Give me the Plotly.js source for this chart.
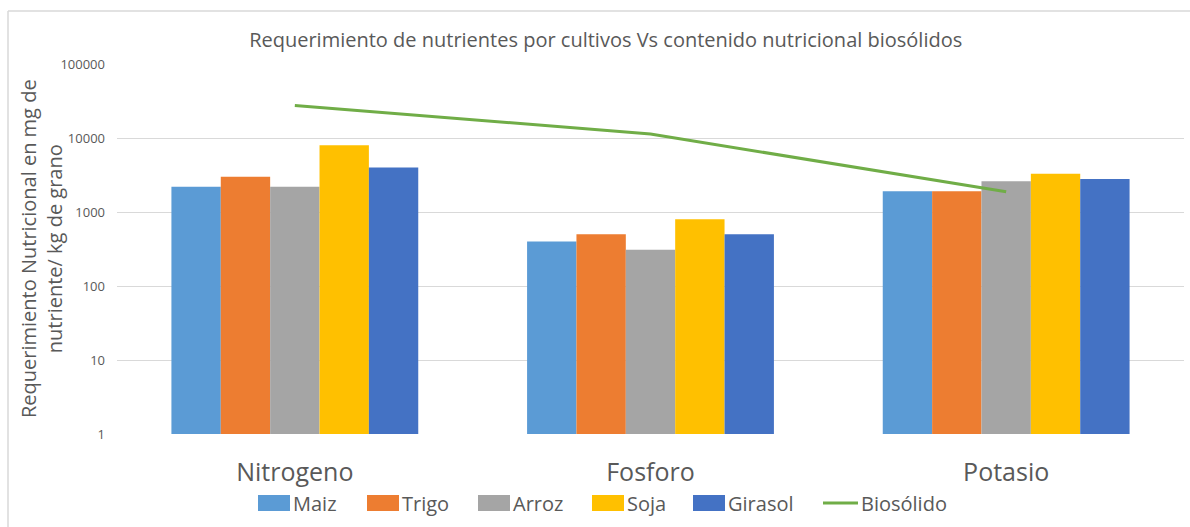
<!DOCTYPE html>
<html>
<head>
<meta charset="utf-8">
<script src="https://cdn.plot.ly/plotly-3.0.1.min.js"></script>
<style>html,body{margin:0;padding:0;background:#fff;}#chart{width:1190px;height:527px;}</style>
</head>
<body>
<div id="chart"></div>
<script>
const categories = ["Nitrogeno", "Fosforo", "Potasio"];
const maiz = [2200, 400, 1900];
const trigo = [3000, 500, 1900];
const arroz = [2200, 310, 2600];
const soja = [8000, 800, 3300];
const girasol = [4000, 500, 2800];
const biosolido = [27500, 11300, 1880];
const yTickVals = [1, 10, 100, 1000, 10000, 100000];
const yTickText = ["1", "10", "100", "1000", "10000", "100000"];
const seriesNames = ["Maiz", "Trigo", "Arroz", "Soja", "Girasol", "Biosólido"];

const FONT = "'Open Sans', sans-serif";
const GRAY = "#595959";
const COLORS = ["#5B9BD5", "#ED7D31", "#A5A5A5", "#FFC000", "#4472C4", "#70AD47"];
const barSeries = [maiz, trigo, arroz, soja, girasol];

const data = barSeries.map((y, i) => ({
  type: "bar", name: seriesNames[i], x: categories, y: y,
  marker: {color: COLORS[i], line: {width: 0}}
}));
data.push({type: "scatter", mode: "lines", name: seriesNames[5], x: categories, y: biosolido,
  line: {color: COLORS[5], width: 3}});

// plot area in pixels
const L = 117, R = 6, T = 64, B = 93, W = 1190, H = 527;
const PW = W - L - R, PH = H - T - B;
const px = v => (v - L) / PW;
const py = v => (H - B - v) / PH;

// custom legend (large swatches like the original)
const legendStarts = [258, 367, 478, 592, 693, 823];
const legendY = 503;
const shapes = [
  {type: "line", xref: "paper", yref: "paper", x0: px(8), x1: px(1195), y0: py(11), y1: py(11),
   line: {color: "#d9d9d9", width: 1.5}},
  {type: "line", xref: "paper", yref: "paper", x0: px(8), x1: px(8), y0: py(11), y1: py(530),
   line: {color: "#d9d9d9", width: 1.5}}
];
const annotations = [
  {text: "Requerimiento Nutricional en mg de<br>nutriente/ kg de grano", xref: "paper", yref: "paper",
   x: px(41), y: py(249), textangle: -90, showarrow: false, xanchor: "center", yanchor: "middle",
   font: {family: FONT, size: 20, color: GRAY}}
];
seriesNames.forEach((n, i) => {
  const s = legendStarts[i];
  if (i < 5) {
    shapes.push({type: "rect", xref: "paper", yref: "paper", x0: px(s), x1: px(s + 32),
      y0: py(legendY - 8), y1: py(legendY + 8), fillcolor: COLORS[i], line: {width: 0}});
  } else {
    shapes.push({type: "line", xref: "paper", yref: "paper", x0: px(s), x1: px(s + 35),
      y0: py(legendY), y1: py(legendY), line: {color: COLORS[i], width: 3}});
  }
  annotations.push({text: n, xref: "paper", yref: "paper", x: px(s + (i < 5 ? 33 : 36)), y: py(legendY),
    xanchor: "left", yanchor: "middle", showarrow: false,
    font: {family: FONT, size: 20, color: GRAY}});
});

const layout = {
  width: W, height: H,
  margin: {l: L, r: R, t: T, b: B},
  paper_bgcolor: "#fff", plot_bgcolor: "#fff",
  font: {family: FONT, color: GRAY},
  title: {text: "Requerimiento de nutrientes por cultivos Vs contenido nutricional biosólidos",
    font: {family: FONT, size: 20, color: GRAY}, x: 0.509, xref: "container", xanchor: "center",
    y: 0.925, yref: "container", yanchor: "middle"},
  barmode: "group", bargap: 0.306, bargroupgap: 0,
  showlegend: false,
  xaxis: {type: "category", showgrid: false, zeroline: false, showline: false,
    ticks: "", tickfont: {size: 25, color: GRAY, family: FONT}, ticklabelstandoff: 21},
  yaxis: {type: "log", range: [0, 5], tickvals: yTickVals, ticktext: yTickText,
    showgrid: true, gridcolor: "#d9d9d9", gridwidth: 1, zeroline: false, showline: false,
    ticks: "", tickfont: {size: 13, color: GRAY, family: FONT}, ticklabelstandoff: 11},
  shapes: shapes,
  annotations: annotations
};
Plotly.newPlot("chart", data, layout, {displayModeBar: false, staticPlot: true});
</script>
</body>
</html>
